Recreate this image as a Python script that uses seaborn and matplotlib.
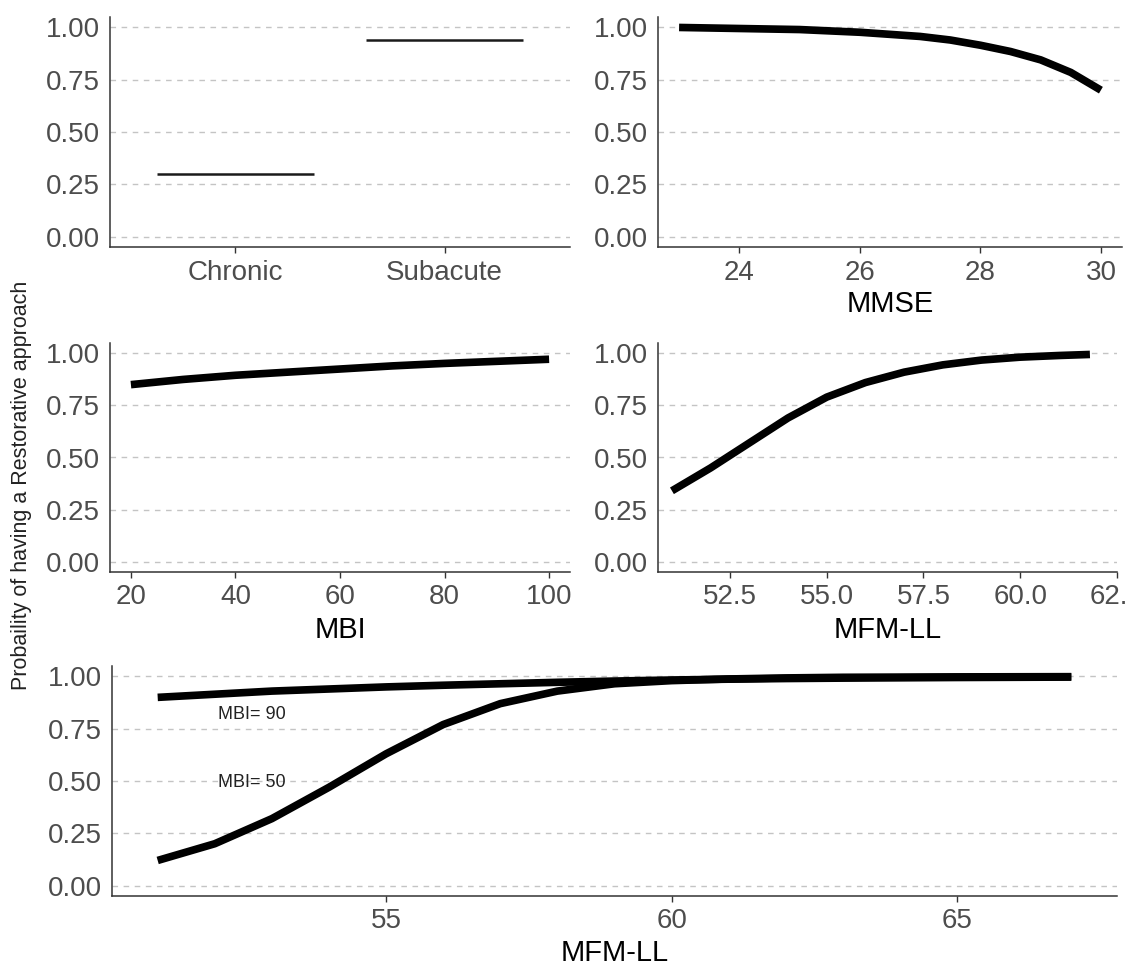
import matplotlib
matplotlib.use("Agg")
import matplotlib.pyplot as plt
import numpy as np
import pandas as pd
import seaborn as sns

# data
phase_labels = ["Chronic", "Subacute"]
phase_prob = [0.30, 0.94]

mmse_x = [23, 24, 25, 26, 27, 27.5, 28, 28.5, 29, 29.5, 30]
mmse_prob = [1.00, 0.995, 0.99, 0.977, 0.957, 0.94, 0.915, 0.885, 0.845, 0.785, 0.70]

mbi_x = [20, 30, 40, 50, 60, 70, 80, 90, 100]
mbi_prob = [0.85, 0.875, 0.895, 0.91, 0.925, 0.94, 0.952, 0.962, 0.972]

mfm_x = [51, 52, 53, 54, 55, 56, 57, 58, 59, 60, 61, 61.8]
mfm_prob = [0.34, 0.45, 0.57, 0.69, 0.79, 0.86, 0.91, 0.945, 0.968, 0.982, 0.99, 0.995]

mfm2_x = [51, 52, 53, 54, 55, 56, 57, 58, 59, 60, 61, 62, 63, 65, 67]
mbi90_prob = [0.90, 0.915, 0.93, 0.94, 0.95, 0.958, 0.965, 0.972, 0.978, 0.983, 0.987, 0.99, 0.992, 0.995, 0.997]
mbi50_prob = [0.12, 0.20, 0.32, 0.47, 0.63, 0.77, 0.87, 0.93, 0.965, 0.98, 0.988, 0.993, 0.996, 0.998, 0.999]

yticks = [0.00, 0.25, 0.50, 0.75, 1.00]

sns.set_theme(style="white")
plt.rcParams["font.family"] = ["Liberation Sans", "DejaVu Sans"]

TICK_COLOR = "#4D4D4D"
TICK_SIZE = 20
LAB_SIZE = 21
THICK = 5.5

fig = plt.figure(figsize=(11.27, 9.65), dpi=100)
W, H = 1127, 965


def px_axes(x0, y_top, x1, y_bot):
    return fig.add_axes([x0 / W, 1 - y_bot / H, (x1 - x0) / W, (y_bot - y_top) / H])


def style(ax):
    ax.set_ylim(-0.05, 1.05)
    ax.set_yticks(yticks)
    ax.set_yticklabels([f"{v:.2f}" for v in yticks])
    ax.grid(axis="y", color="#C4C4C4", linestyle=(0, (4, 4)), linewidth=1.0)
    ax.grid(axis="x", visible=False)
    ax.set_axisbelow(True)
    sns.despine(ax=ax)
    for s in ["left", "bottom"]:
        ax.spines[s].set_color("#333333")
        ax.spines[s].set_linewidth(1.1)
    ax.tick_params(axis="y", length=0, pad=7, labelsize=TICK_SIZE, labelcolor=TICK_COLOR)
    ax.tick_params(axis="x", length=4, width=1.0, color="#333333", pad=5,
                   labelsize=TICK_SIZE, labelcolor=TICK_COLOR, bottom=True)
    ax.set_ylabel("")


# top-left: phase
ax1 = px_axes(110, 17, 570, 247)
idx = np.arange(len(phase_labels))
ax1.hlines(phase_prob, idx - 0.375, idx + 0.375, color="#1a1a1a", linewidth=1.8)
ax1.set_xlim(-0.6, 1.6)
ax1.set_xticks(idx)
ax1.set_xticklabels(phase_labels)
style(ax1)

# top-right: MMSE
ax2 = px_axes(658, 17, 1122, 247)
sns.lineplot(x=mmse_x, y=mmse_prob, ax=ax2, color="black", linewidth=THICK)
ax2.set_xlim(22.65, 30.35)
ax2.set_xticks([24, 26, 28, 30])
style(ax2)
ax2.set_xlabel("MMSE", fontsize=LAB_SIZE, color="black", labelpad=3)

# middle-left: MBI
ax3 = px_axes(110, 343, 570, 572)
sns.lineplot(x=mbi_x, y=mbi_prob, ax=ax3, color="black", linewidth=THICK)
ax3.set_xlim(16, 104)
ax3.set_xticks([20, 40, 60, 80, 100])
style(ax3)
ax3.set_xlabel("MBI", fontsize=LAB_SIZE, color="black", labelpad=4)

# middle-right: MFM-LL
ax4 = px_axes(658, 343, 1117, 572)
sns.lineplot(x=mfm_x, y=mfm_prob, ax=ax4, color="black", linewidth=THICK)
ax4.set_xlim(50.64, 62.5)
ax4.set_xticks([52.5, 55.0, 57.5, 60.0, 62.5])
ax4.set_xticklabels(["52.5", "55.0", "57.5", "60.0", "62.5"])
style(ax4)
ax4.set_xlabel("MFM-LL", fontsize=LAB_SIZE, color="black", labelpad=4)

# bottom: MFM-LL by MBI
ax5 = px_axes(112, 666, 1117, 896)
df = pd.DataFrame({
    "MFM": mfm2_x * 2,
    "prob": mbi90_prob + mbi50_prob,
    "MBI": ["90"] * len(mfm2_x) + ["50"] * len(mfm2_x),
})
sns.lineplot(data=df, x="MFM", y="prob", units="MBI", estimator=None,
             ax=ax5, color="black", linewidth=THICK)
ax5.set_xlim(50.2, 67.8)
ax5.set_xticks([55, 60, 65])
style(ax5)
ax5.set_xlabel("MFM-LL", fontsize=LAB_SIZE, color="black", labelpad=3)
ax5.text(52.05, 0.82, "MBI= 90", fontsize=13, color="#222222", va="center", ha="left")
ax5.text(52.05, 0.495, "MBI= 50", fontsize=13, color="#222222", va="center", ha="left")

for ax in [ax2, ax3, ax4, ax5]:
    for line in ax.lines:
        line.set_solid_capstyle("butt")
        line.set_solid_joinstyle("round")

fig.text(0.019, 0.497, "Probaility of having a Restorative approach", rotation=90,
         fontsize=15.5, color="#222222", va="center", ha="center")

fig.savefig("out.png", dpi=100, facecolor="white")
